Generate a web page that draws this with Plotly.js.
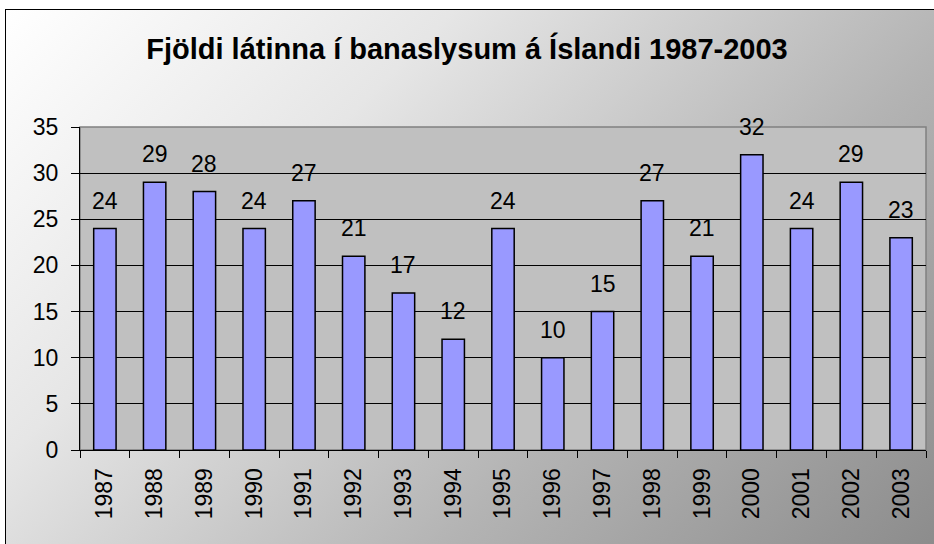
<!DOCTYPE html>
<html>
<head>
<meta charset="utf-8">
<script src="https://cdn.plot.ly/plotly-3.0.1.min.js"></script>
<style>
html,body{margin:0;padding:0;width:934px;height:544px;overflow:hidden;background:#fff;}
#bg{position:absolute;left:5px;top:9px;width:940px;height:550px;border:1px solid #000;
background:linear-gradient(135deg,#ffffff 0%,#e6e6e6 30%,#b4b4b4 65%,#8a8a8a 100%);}
#chart{position:absolute;left:0;top:0;width:934px;height:544px;}
</style>
</head>
<body>
<div id="bg"></div>
<div id="chart"></div>
<script>
const years = ["1987","1988","1989","1990","1991","1992","1993","1994","1995","1996","1997","1998","1999","2000","2001","2002","2003"];
const deaths = [24,29,28,24,27,21,17,12,24,10,15,27,21,32,24,29,23];
const chartTitle = "Fjöldi látinna í banaslysum á Íslandi 1987-2003";

const FONT = "Arial, 'Liberation Sans', sans-serif";

const trace = {
  type: 'bar',
  x: years,
  y: deaths,
  width: 0.45,
  marker: {color: '#9999ff', line: {color: '#000', width: 1.5}},
  hoverinfo: 'x+y'
};

const annotations = years.map((yr, i) => ({
  x: i, y: deaths[i], text: String(deaths[i]),
  xref: 'x', yref: 'y', showarrow: false,
  yanchor: 'bottom', yshift: 13,
  font: {family: FONT, size: 23, color: '#000'}
}));

const layout = {
  width: 934, height: 544,
  margin: {l: 80, r: 8, t: 127, b: 94},
  paper_bgcolor: 'rgba(0,0,0,0)',
  plot_bgcolor: '#c0c0c0',
  showlegend: false,
  title: {text: '<b>' + chartTitle + '</b>', x: 0.5, xanchor: 'center', y: 0.91, yanchor: 'middle',
    font: {family: FONT, size: 29, color: '#000'}},
  font: {family: FONT, size: 23, color: '#000'},
  xaxis: {
    type: 'category', tickangle: -90, showgrid: false,
    range: [-0.5, years.length - 0.5],
    showline: true, linecolor: '#000', linewidth: 1,
    ticks: 'outside', ticklen: 7, tickcolor: '#000', tickson: 'boundaries',
    tickfont: {family: FONT, size: 23, color: '#000'}, zeroline: false,
    ticklabelstandoff: 8
  },
  yaxis: {
    range: [0, 35], dtick: 5, tick0: 0,
    showgrid: true, gridcolor: '#000', gridwidth: 1,
    showline: true, linecolor: '#000', linewidth: 1,
    ticks: 'outside', ticklen: 8, tickcolor: '#000',
    tickfont: {family: FONT, size: 23, color: '#000'}, zeroline: false,
    ticklabelstandoff: 8
  },
  shapes: [{type: 'rect', xref: 'paper', yref: 'paper', x0: 0, x1: 1, y0: 0, y1: 1,
    line: {color: '#808080', width: 1.5}, layer: 'below'}],
  annotations: annotations
};

Plotly.newPlot('chart', [trace], layout, {displayModeBar: false, staticPlot: true});
</script>
</body>
</html>
